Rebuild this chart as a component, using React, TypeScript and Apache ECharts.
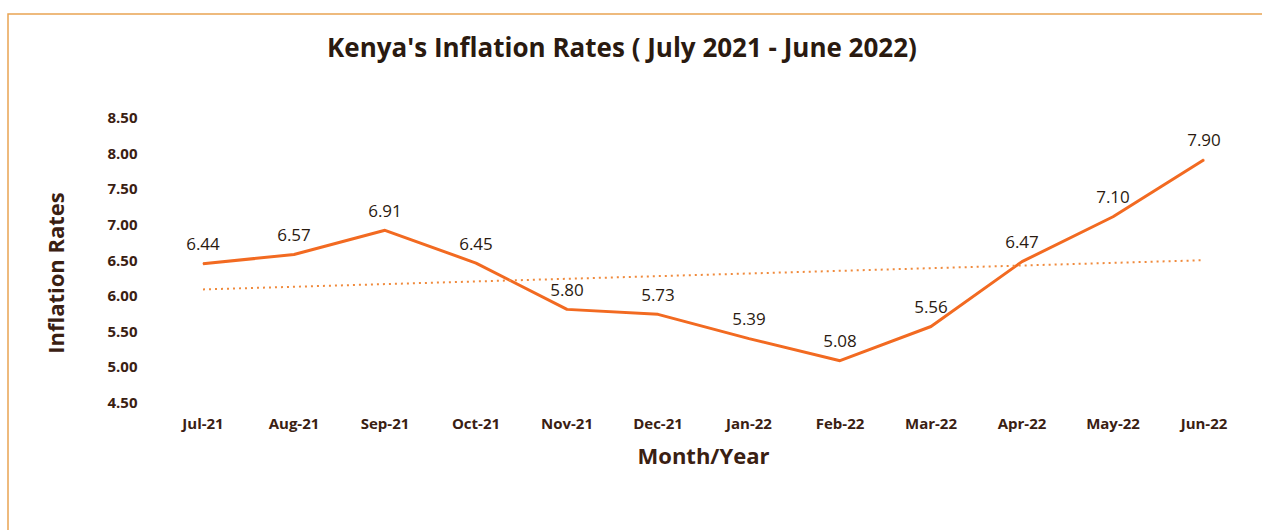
import React, { useEffect, useRef } from "react";
import * as echarts from "echarts";

const months = ["Jul-21", "Aug-21", "Sep-21", "Oct-21", "Nov-21", "Dec-21", "Jan-22", "Feb-22", "Mar-22", "Apr-22", "May-22", "Jun-22"];
const rates = [6.44, 6.57, 6.91, 6.45, 5.8, 5.73, 5.39, 5.08, 5.56, 6.47, 7.1, 7.9];
const trendEnds = [6.08, 6.49];

const FONT = "'Open Sans', Lato, sans-serif";
const TXT = "#3a2012";

export default function App() {
  const ref = useRef<HTMLDivElement>(null);
  useEffect(() => {
    const chart = echarts.init(ref.current!, undefined, { renderer: "svg" });
    chart.setOption({
      animation: false,
      backgroundColor: "#ffffff",
      title: {
        text: "Kenya's Inflation Rates ( July 2021 - June 2022)",
        left: 617,
        top: 29,
        textAlign: "center",
        textStyle: { fontFamily: FONT, fontSize: 26, fontWeight: "bold", color: "#2a1a10" },
      },
      graphic: [
        {
          type: "rect",
          shape: { x: 8, y: 14, width: 1400, height: 700 },
          style: { fill: "none", stroke: "#e9a453", lineWidth: 1.5 },
          silent: true,
        },
        {
          type: "text",
          x: 55,
          y: 273,
          rotation: Math.PI / 2,
          style: {
            text: "Inflation Rates",
            fontFamily: FONT,
            fontSize: 22,
            fontWeight: "bold",
            fill: TXT,
            align: "center",
            verticalAlign: "middle",
          },
          silent: true,
        },
      ],
      grid: { left: 157.5, right: 12.5, top: 117, bottom: 128 },
      xAxis: {
        type: "category",
        data: months,
        boundaryGap: true,
        axisLine: { show: false },
        axisTick: { show: false },
        axisLabel: { margin: 13, fontFamily: FONT, fontSize: 15, fontWeight: "bold", color: TXT },
        name: "Month/Year",
        nameLocation: "middle",
        nameGap: 42,
        nameTextStyle: { fontFamily: FONT, fontSize: 22, fontWeight: "bold", color: TXT },
      },
      yAxis: {
        type: "value",
        min: 4.5,
        max: 8.5,
        interval: 0.5,
        splitLine: { show: false },
        axisLine: { show: false },
        axisTick: { show: false },
        axisLabel: {
          margin: 20,
          fontFamily: FONT,
          fontSize: 15,
          fontWeight: "bold",
          color: TXT,
          formatter: (v: number) => v.toFixed(2),
        },
      },
      series: [
        {
          type: "line",
          data: rates,
          symbol: "circle",
          symbolSize: 1,
          itemStyle: { color: "#f26a21" },
          lineStyle: { color: "#f26a21", width: 3 },
          label: {
            show: true,
            position: "top",
            distance: 11,
            fontFamily: FONT,
            fontSize: 17,
            color: "#2a1a10",
            formatter: (p: any) => Number(p.value).toFixed(2),
          },
          markLine: {
            silent: true,
            symbol: "none",
            label: { show: false },
            lineStyle: { color: "#f08a3c", width: 2, type: [2, 4] },
            data: [
              [
                { coord: [months[0], trendEnds[0]] },
                { coord: [months[months.length - 1], trendEnds[1]] },
              ],
            ],
          },
        },
      ],
    });
    return () => chart.dispose();
  }, []);
  return <div ref={ref} style={{ position: "fixed", left: 0, top: 0, width: 1262, height: 530 }} />;
}
